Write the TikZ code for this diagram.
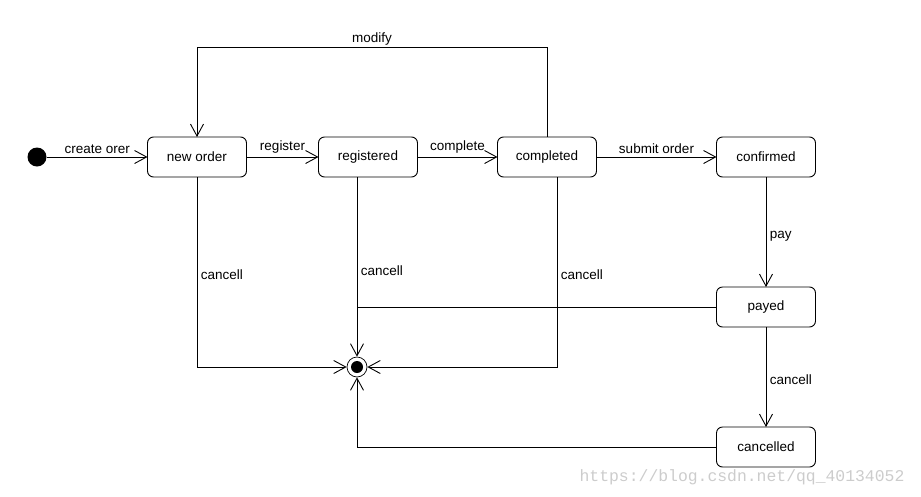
\documentclass[tikz,border=0pt]{standalone}
\usepackage{fontspec}
\setmainfont{Liberation Sans}
\newfontfamily\markfont{Liberation Mono}
\usetikzlibrary{arrows.meta}
\usetikzlibrary{positioning}

\begin{document}
\begin{tikzpicture}[x=1pt, y=1pt, line width=0.9pt, node distance=72pt, auto,
  >={Straight Barb[length=12pt, width=13pt, line width=0.9pt]},
  font=\fontsize{13.5}{16}\selectfont,
  state/.style={draw, rounded corners=6pt, minimum width=99pt, minimum height=40pt, outer sep=0pt}]
  \useasboundingbox (0,0) rectangle (921,-496);

  % start and end
  \node[circle, fill, minimum size=19pt, inner sep=0pt] (start) at (37,-157) {};
  \node[circle, draw, minimum size=20pt, inner sep=0pt, line width=0.7pt] (stop) at (357,-367) {};
  \fill (stop.center) circle (6pt);

  % states of the order
  \node[state] (new) at (197,-157) {new order};
  \node[state] (reg) [right=of new] {registered};
  \node[state] (done) [right=80pt of reg] {completed};
  \node[state] (conf) [right=120pt of done] {confirmed};
  \node[state] (payed) [below=110pt of conf] {payed};
  \node[state] (canc) [below=100pt of payed] {cancelled};

  \path[->]
  (start) edge node {create orer} (new)
  (new) edge node {register} (reg)
  (reg) edge node {complete} (done)
  (done) edge node {submit order} (conf)
  (conf) edge node[pos=0.54] {pay} (payed)
  (payed) edge node[pos=0.53] {cancell} (canc);

  % back to new order
  \draw[->] (done.north) -- ++(0,90) -| node[pos=0.25, above, yshift=-2pt] {modify} (new.north);

  % cancelling
  \draw[->] (new.south) |- node[pos=0.258] {cancell} (stop);
  \draw[->] (reg.south -| stop) -- node[pos=0.52] {cancell} (stop);
  \draw[->] ([xshift=10pt]done.south) |- node[pos=0.258] {cancell} (stop);
  \draw (payed.west) -- (payed.west -| stop);
  \draw[->] (canc.west) -| (stop);

  \node[font=\markfont\fontsize{16.4}{18}\selectfont, text=black!20] (mark) at (742,-477) {https://blog.csdn.net/qq\_40134052};
\end{tikzpicture}
\end{document}
